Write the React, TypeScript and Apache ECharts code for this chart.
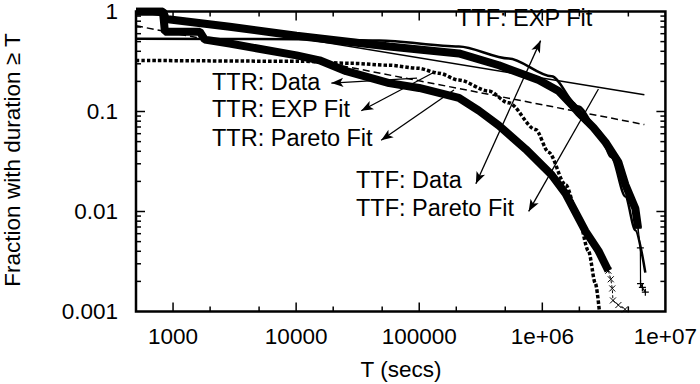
import React, { useEffect, useRef } from "react";
import * as echarts from "echarts";

const FONT = "'Liberation Sans', Arial, Helvetica, sans-serif";

// Axis tick labels
const xLabelValues = [1000, 10000, 100000, 1000000, 10000000];
const xLabelTexts = ["1000", "10000", "100000", "1e+06", "1e+07"];
const yLabelValues = [1, 0.1, 0.01, 0.001];
const yLabelTexts = ["1", "0.1", "0.01", "0.001"];

// Tick marks
const xMajorTicks = [1000, 10000, 100000, 1000000];
const xMinorTicks = [2000, 5000, 20000, 50000, 200000, 500000, 2000000, 5000000];
const yMajorTicks = [0.1, 0.01];
const yMinorTicks = [
  0.002, 0.003, 0.004, 0.005, 0.006, 0.007, 0.008, 0.009,
  0.02, 0.03, 0.04, 0.05, 0.06, 0.07, 0.08, 0.09,
  0.2, 0.3, 0.4, 0.5, 0.6, 0.7, 0.8, 0.9,
];

// TTF: Data (time to failure), dense band
const ttfDataT = [500, 828, 875, 2886, 10070, 57000, 210000, 443000, 933000, 1355000, 1730000, 1970000, 2600000, 3260000, 4150000, 4730000, 5700000, 6000000];
const ttfDataF = [1.0, 1.0, 0.843, 0.703, 0.573, 0.446, 0.381, 0.29, 0.206, 0.16, 0.117, 0.0973, 0.0692, 0.0492, 0.0312, 0.0185, 0.0107, 0.0068];
// TTF: Data sparse tail
const ttfTailT = [6000000, 6260000, 6280000, 6500000, 6870000];
const ttfTailF = [0.0068, 0.00433, 0.0019, 0.00174, 0.00156];

// TTR: Data (time to repair), dense band
const ttrDataT = [500, 828, 859, 1648, 1811, 2886, 10070, 15460, 25560, 57000, 99800, 210000, 305000, 443000, 733000, 1190000, 1545000, 2240000, 2860000, 3440000];
const ttrDataF = [1.0, 1.0, 0.627, 0.627, 0.523, 0.478, 0.364, 0.325, 0.253, 0.192, 0.172, 0.137, 0.102, 0.0724, 0.042, 0.0232, 0.0151, 0.00637, 0.00404, 0.00256];
// TTR: Data sparse tail
const ttrTailT = [3440000, 3600000, 3700000, 3750000, 4150000, 4700000];
const ttrTailF = [0.00256, 0.0021, 0.0017, 0.00129, 0.00116, 0.00105];

// TTF: EXP Fit
const ttfExpT = [500, 10640, 47300, 210000, 533000, 1190000, 1970000, 2860000, 3640000, 4730000, 5700000, 6870000];
const ttfExpF = [0.535, 0.529, 0.512, 0.446, 0.339, 0.225, 0.112, 0.0646, 0.0349, 0.0141, 0.0065, 0.00245];

// TTF: Pareto Fit
const ttfParT = [500, 6750000];
const ttfParF = [1.0, 0.147];

// TTR: EXP Fit
const ttrExpT = [500, 10640, 28600, 57000, 98000, 144500, 210000, 367000, 533000, 883000, 1125000, 1545000, 1970000, 2370000, 2700000, 2910000];
const ttrExpF = [0.3245, 0.318, 0.303, 0.29, 0.2706, 0.2415, 0.206, 0.16, 0.122, 0.066, 0.0392, 0.0185, 0.00855, 0.00403, 0.00191, 0.001];

// TTR: Pareto Fit
const ttrParT = [500, 6750000];
const ttrParF = [0.72, 0.074];

// Annotation arrows: [from(T,F), to(T,F)], arrowhead at "to" (label side)
const arrowTTRData = [[95940, 0.2157], [19320, 0.1924]];
const arrowTTRExp = [[136800, 0.2528], [33810, 0.1018]];
const arrowTTRPar = [[191400, 0.1641], [49090, 0.0515]];
const arrowTTFBoth = [[288500, 0.01894], [968600, 0.5114]];
const arrowTTFPar = [[2858000, 0.168], [774600, 0.01002]];

const pairs = (t: number[], f: number[]) => t.map((v, i) => [v, f[i]]);

const PLUS = "path://M5,0L5,10M0,5L10,5";
const CROSS = "path://M0,0L10,10M10,0L0,10";

function findLabel(v: number, vals: number[], texts: string[]) {
  const i = vals.findIndex((t) => Math.abs(Math.log10(v) - Math.log10(t)) < 1e-6);
  return i >= 0 ? texts[i] : "";
}

function tickSeries(vals: number[], dir: "x" | "y", len: number) {
  return {
    type: "custom",
    coordinateSystem: "cartesian2d",
    silent: true,
    clip: false,
    z: 10,
    data: vals.map((v) => (dir === "x" ? [v, 0.1] : [10000, v])),
    renderItem: (params: any, api: any) => {
      const cs = params.coordSys;
      const p = api.coord([api.value(0), api.value(1)]);
      const style = { stroke: "#000", lineWidth: 1.5 };
      if (dir === "x") {
        const b = cs.y + cs.height;
        return {
          type: "group",
          children: [
            { type: "line", shape: { x1: p[0], y1: b, x2: p[0], y2: b - len }, style },
            { type: "line", shape: { x1: p[0], y1: cs.y, x2: p[0], y2: cs.y + len }, style },
          ],
        };
      }
      const r = cs.x + cs.width;
      return {
        type: "group",
        children: [
          { type: "line", shape: { x1: cs.x, y1: p[1], x2: cs.x + len, y2: p[1] }, style },
          { type: "line", shape: { x1: r, y1: p[1], x2: r - len, y2: p[1] }, style },
        ],
      };
    },
  };
}

function arrow(a: number[][], both = false) {
  return [
    { coord: a[0], symbol: both ? "arrow" : "none" },
    { coord: a[1], symbol: "arrow" },
  ];
}

const textStyle = (text: string, extra: any = {}) => ({
  text,
  fontSize: 23.5,
  fontFamily: FONT,
  fill: "#000",
  verticalAlign: "middle",
  align: "left",
  ...extra,
});

export default function App() {
  const ref = useRef<HTMLDivElement>(null);
  useEffect(() => {
    const chart = echarts.init(ref.current!, null, { renderer: "svg" });
    const black = "#000";
    const option: any = {
      animation: false,
      backgroundColor: "#fff",
      grid: {
        left: 136,
        right: 34,
        top: 7.5,
        bottom: 72.5,
        show: true,
        borderColor: black,
        borderWidth: 2.5,
        backgroundColor: "transparent",
        containLabel: false,
      },
      xAxis: {
        type: "log",
        logBase: 10,
        min: 500,
        max: 10000000,
        axisLine: { show: false },
        axisTick: { show: false },
        splitLine: { show: false },
        axisLabel: {
          show: true,
          showMinLabel: true,
          showMaxLabel: true,
          color: black,
          fontSize: 22.5,
          fontFamily: FONT,
          margin: 13,
          formatter: (v: number) => findLabel(v, xLabelValues, xLabelTexts),
        },
      },
      yAxis: {
        type: "log",
        logBase: 10,
        min: 0.001,
        max: 1,
        axisLine: { show: false },
        axisTick: { show: false },
        splitLine: { show: false },
        axisLabel: {
          show: true,
          showMinLabel: true,
          showMaxLabel: true,
          color: black,
          fontSize: 22.5,
          fontFamily: FONT,
          margin: 18,
          formatter: (v: number) => findLabel(v, yLabelValues, yLabelTexts),
        },
      },
      graphic: [
        { type: "text", x: 12, y: 160, rotation: Math.PI / 2, style: textStyle("Fraction with duration \u2265 T", { align: "center", fontSize: 22.5 }) },
        { type: "text", x: 401, y: 369, style: textStyle("T (secs)", { align: "center", fontSize: 22.5 }) },
        { type: "text", x: 212, y: 82, style: textStyle("TTR: Data") },
        { type: "text", x: 212, y: 109, style: textStyle("TTR: EXP Fit") },
        { type: "text", x: 212, y: 138, style: textStyle("TTR: Pareto Fit") },
        { type: "text", x: 356, y: 180, style: textStyle("TTF: Data") },
        { type: "text", x: 356, y: 208, style: textStyle("TTF: Pareto Fit") },
        { type: "text", x: 457, y: 18, style: textStyle("TTF: EXP Fit") },
      ],
      series: [
        {
          name: "TTF: Data",
          type: "line",
          data: pairs(ttfDataT, ttfDataF),
          showSymbol: false,
          symbol: "none",
          lineStyle: { color: black, width: 8 },
        },
        {
          name: "TTF: Data tail",
          type: "line",
          data: pairs(ttfTailT, ttfTailF),
          symbol: PLUS,
          symbolSize: 7,
          itemStyle: { color: "transparent", borderColor: black, borderWidth: 1.2 },
          lineStyle: { color: black, width: 1.2 },
        },
        {
          name: "TTR: Data",
          type: "line",
          data: pairs(ttrDataT, ttrDataF),
          showSymbol: false,
          symbol: "none",
          lineStyle: { color: black, width: 8 },
        },
        {
          name: "TTR: Data tail",
          type: "line",
          data: pairs(ttrTailT, ttrTailF),
          symbol: CROSS,
          symbolSize: 6,
          itemStyle: { color: "transparent", borderColor: black, borderWidth: 1 },
          lineStyle: { color: black, width: 1, type: [3, 2] },
        },
        {
          name: "TTF: EXP Fit",
          type: "line",
          data: pairs(ttfExpT, ttfExpF),
          smooth: 0.3,
          smoothMonotone: "x",
          symbol: "none",
          lineStyle: { color: black, width: 2.5 },
        },
        {
          name: "TTF: Pareto Fit",
          type: "line",
          data: pairs(ttfParT, ttfParF),
          symbol: "none",
          lineStyle: { color: black, width: 1.5 },
        },
        {
          name: "TTR: EXP Fit",
          type: "line",
          data: pairs(ttrExpT, ttrExpF),
          smooth: 0.3,
          smoothMonotone: "x",
          symbol: "none",
          lineStyle: { color: black, width: 3.5, type: [3.5, 2] },
        },
        {
          name: "TTR: Pareto Fit",
          type: "line",
          data: pairs(ttrParT, ttrParF),
          symbol: "none",
          lineStyle: { color: black, width: 1.5, type: [7, 4] },
        },
        {
          name: "arrows",
          type: "line",
          data: [],
          markLine: {
            silent: true,
            animation: false,
            symbolSize: [7, 12],
            label: { show: false },
            lineStyle: { color: black, width: 1.3, type: "solid" },
            data: [
              arrow(arrowTTRData),
              arrow(arrowTTRExp),
              arrow(arrowTTRPar),
              arrow(arrowTTFBoth, true),
              arrow(arrowTTFPar),
            ],
          },
        },
        tickSeries(xMajorTicks, "x", 9),
        tickSeries(xMinorTicks, "x", 5),
        tickSeries(yMajorTicks, "y", 9),
        tickSeries(yMinorTicks, "y", 5),
      ],
    };
    chart.setOption(option);
    return () => chart.dispose();
  }, []);
  return (
    <div
      ref={ref}
      style={{ position: "fixed", left: 0, top: 0, width: 700, height: 384, background: "#fff" }}
    />
  );
}
